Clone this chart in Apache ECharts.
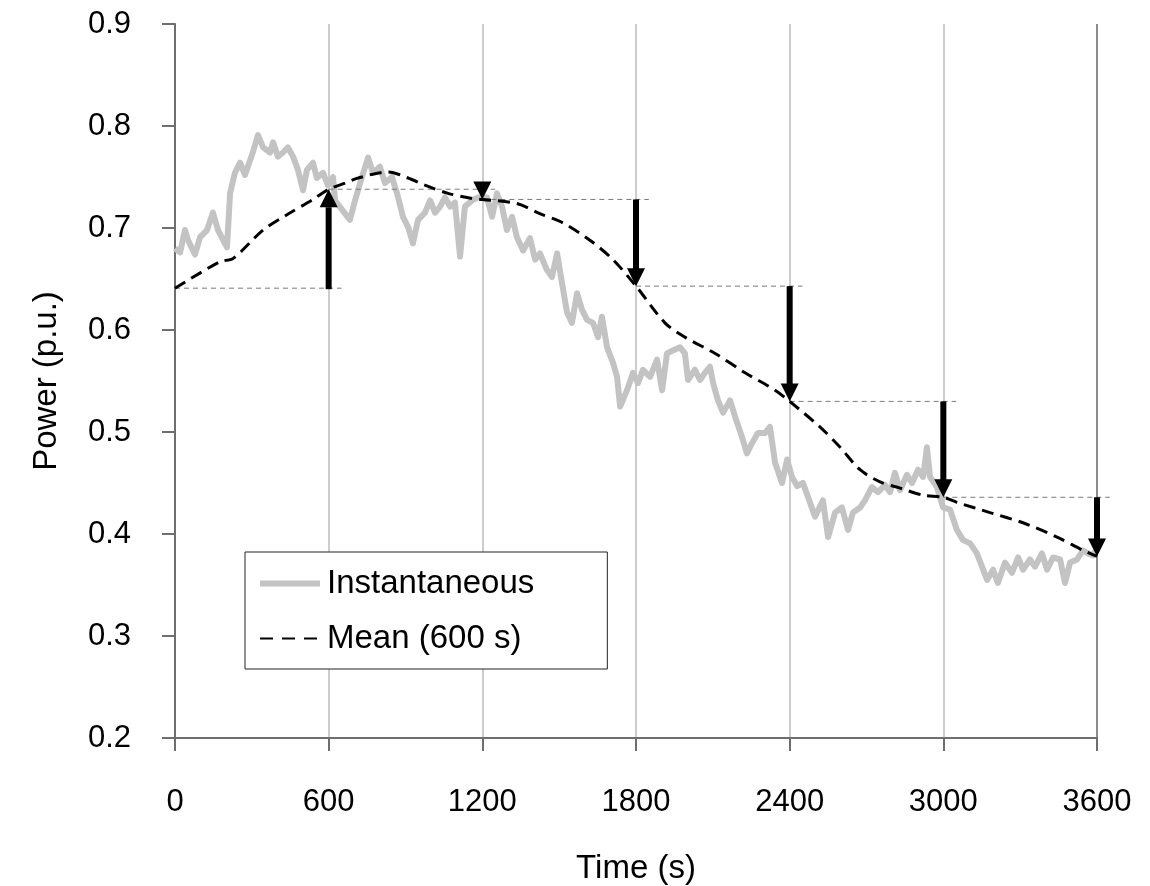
<!DOCTYPE html>
<html>
<head>
<meta charset="utf-8">
<script src="https://cdn.jsdelivr.net/npm/echarts@6/dist/echarts.min.js"></script>
<style>
html,body{margin:0;padding:0;background:#fff;}
#chart{width:1150px;height:886px;}
</style>
</head>
<body>
<div id="chart"></div>
<script>
// ---- data ----
const instTime = [0,20,39,51,78,98,125,148,168,203,215,234,254,273,301,324,344,371,383,402,422,441,461,480,500,515,539,554,578,597,617,625,652,683,703,730,754,773,800,820,847,867,890,910,929,949,976,996,1015,1035,1054,1074,1093,1113,1132,1160,1183,1218,1238,1257,1277,1296,1316,1335,1359,1386,1406,1425,1452,1472,1492,1511,1531,1550,1570,1589,1609,1632,1652,1667,1687,1710,1726,1738,1765,1788,1808,1827,1855,1882,1902,1921,1944,1972,1991,2003,2030,2050,2069,2089,2101,2120,2140,2167,2187,2214,2233,2253,2276,2304,2323,2343,2370,2390,2409,2429,2452,2472,2499,2530,2550,2577,2604,2628,2647,2675,2694,2721,2745,2772,2792,2811,2831,2858,2878,2901,2921,2936,2948,2975,2999,3026,3053,3077,3104,3131,3151,3171,3194,3213,3241,3268,3292,3311,3338,3358,3385,3405,3428,3456,3475,3495,3522,3545,3565,3584,3600];
const instPower = [0.680,0.676,0.698,0.688,0.674,0.691,0.698,0.715,0.698,0.681,0.734,0.754,0.764,0.752,0.772,0.791,0.779,0.774,0.784,0.770,0.774,0.779,0.770,0.757,0.737,0.757,0.764,0.749,0.754,0.742,0.750,0.727,0.718,0.708,0.727,0.750,0.769,0.754,0.760,0.744,0.750,0.734,0.711,0.701,0.685,0.708,0.715,0.727,0.715,0.721,0.730,0.721,0.725,0.672,0.721,0.727,0.730,0.730,0.711,0.734,0.721,0.698,0.711,0.691,0.678,0.690,0.669,0.675,0.659,0.652,0.675,0.646,0.617,0.607,0.636,0.620,0.610,0.607,0.593,0.613,0.583,0.568,0.554,0.525,0.541,0.558,0.548,0.561,0.554,0.571,0.541,0.577,0.580,0.583,0.577,0.551,0.561,0.551,0.558,0.564,0.548,0.531,0.519,0.531,0.515,0.495,0.479,0.489,0.499,0.499,0.505,0.470,0.450,0.473,0.456,0.447,0.450,0.436,0.417,0.433,0.397,0.421,0.426,0.404,0.421,0.426,0.433,0.446,0.441,0.448,0.441,0.460,0.443,0.458,0.450,0.463,0.456,0.485,0.456,0.446,0.426,0.424,0.404,0.394,0.391,0.381,0.368,0.355,0.365,0.352,0.372,0.362,0.377,0.365,0.375,0.368,0.381,0.365,0.377,0.375,0.352,0.372,0.375,0.384,0.381,0.379,0.386];

const meanTime = [0,176,226,344,437,539,600,664,715,832,910,976,1066,1160,1200,1335,1425,1515,1620,1710,1800,1913,1991,2109,2226,2343,2400,2518,2597,2675,2753,2831,2921,3000,3053,3182,3311,3444,3545,3600];
const meanPower = [0.641,0.667,0.670,0.698,0.713,0.728,0.738,0.744,0.749,0.755,0.749,0.742,0.734,0.729,0.728,0.724,0.714,0.705,0.688,0.669,0.643,0.607,0.593,0.577,0.558,0.541,0.530,0.505,0.485,0.463,0.451,0.445,0.438,0.436,0.431,0.421,0.411,0.397,0.384,0.378];

// step arrows: at each time the held mean jumps from old level to new mean
const arrowTime = [600,1200,1800,2400,3000,3600];
const arrowFrom = [0.641,0.738,0.728,0.643,0.530,0.436];
const arrowTo   = [0.738,0.728,0.643,0.530,0.436,0.378];

// held levels (thin dashed reference lines)
const refStart = [0,600,1200,1800,2400,3000];
const refLevel = [0.641,0.738,0.728,0.643,0.530,0.436];
const refSpan = 650;

const xTicks = [0,600,1200,1800,2400,3000,3600];
const yTicks = [0.2,0.3,0.4,0.5,0.6,0.7,0.8,0.9];

// ---- build ----
const instData = instTime.map((t,i)=>[t,instPower[i]]);
const meanData = meanTime.map((t,i)=>[t,meanPower[i]]);
const arrowData = arrowTime.map((t,i)=>[t,arrowFrom[i],arrowTo[i]]);
const refData = refStart.map((t,i)=>[t,refLevel[i],t+refSpan]);

const FONT = 'Liberation Sans, Arial, sans-serif';
const chart = echarts.init(document.getElementById('chart'));
chart.setOption({
  animation:false,
  backgroundColor:'#fff',
  grid:{left:175,right:53,top:24,bottom:148,containLabel:false,outerBoundsMode:'none'},
  legend:{
    orient:'vertical', left:245, top:552,
    padding:[15,73,14,12], itemGap:22,
    itemWidth:60, itemHeight:16,
    borderColor:'#222', borderWidth:1, backgroundColor:'#fff',
    itemStyle:{opacity:0},
    lineStyle:{width:'inherit'},
    textStyle:{fontFamily:FONT,fontSize:33,color:'#000',padding:[0,0,0,2]},
    data:[
      {name:'Instantaneous'},
      {name:'Mean (600 s)',lineStyle:{width:2,type:[13,9]}}
    ]
  },
  xAxis:{
    type:'value', min:0, max:3600, interval:600,
    axisLine:{show:true,lineStyle:{color:'#6e6e6e',width:2}},
    axisTick:{show:true,inside:false,length:13,lineStyle:{color:'#6e6e6e',width:2}},
    axisLabel:{fontFamily:FONT,fontSize:31,color:'#000',margin:49,
      formatter:v=>xTicks.includes(v)?String(v):''},
    splitLine:{show:true,lineStyle:{color:['#cdcdcd','#cdcdcd','#cdcdcd','#cdcdcd','#cdcdcd','#cdcdcd','#8c8c8c'],width:2}},
    name:'Time (s)', nameLocation:'middle', nameGap:114,
    nameTextStyle:{fontFamily:FONT,fontSize:33,color:'#000'}
  },
  yAxis:{
    type:'value', min:0.2, max:0.9, interval:0.1,
    axisLine:{show:true,lineStyle:{color:'#6e6e6e',width:2}},
    axisTick:{show:true,inside:false,length:13,lineStyle:{color:'#6e6e6e',width:2}},
    axisLabel:{fontFamily:FONT,fontSize:31,color:'#000',margin:44,
      formatter:v=>{const f=yTicks.find(y=>Math.abs(y-v)<1e-6);return f!==undefined?f.toFixed(1):'';}},
    splitLine:{show:false},
    name:'Power (p.u.)', nameLocation:'middle', nameGap:112,
    nameTextStyle:{fontFamily:FONT,fontSize:33,color:'#000'}
  },
  series:[
    {
      name:'Instantaneous', type:'line', data:instData,
      symbol:'none', showSymbol:false, smooth:false, z:2,
      lineStyle:{color:'#c3c3c3',width:6,join:'round'},
      itemStyle:{color:'#c3c3c3'}
    },
    {
      name:'refLevels', type:'custom', data:refData, z:3, clip:false, silent:true,
      renderItem:(params,api)=>{
        const a=api.coord([api.value(0),api.value(1)]);
        const b=api.coord([api.value(2),api.value(1)]);
        return {type:'line',shape:{x1:a[0],y1:a[1],x2:b[0],y2:b[1]},
          style:{stroke:'#7a7a7a',lineWidth:1,lineDash:[5,4]}};
      }
    },
    {
      name:'Mean (600 s)', type:'line', data:meanData,
      symbol:'none', showSymbol:false, smooth:0.3, z:4,
      lineStyle:{color:'#000',width:3,type:[12,7]},
      itemStyle:{color:'#000'}
    },
    {
      name:'arrows', type:'custom', data:arrowData, z:5, clip:false, silent:true,
      renderItem:(params,api)=>{
        const p0=api.coord([api.value(0),api.value(1)]);
        const p1=api.coord([api.value(0),api.value(2)]);
        const x=p1[0];
        const dir=p1[1]>p0[1]?1:-1;
        const headLen=18, headHalf=9, shaftHalf=3;
        const baseY=p1[1]-dir*headLen;
        const children=[];
        const shaftLen=(baseY-p0[1])*dir;
        if(shaftLen>0){
          const y0=Math.min(p0[1],baseY), y1=Math.max(p0[1],baseY);
          children.push({type:'rect',shape:{x:x-shaftHalf,y:y0,width:shaftHalf*2,height:y1-y0+1},style:{fill:'#000'}});
        }
        children.push({type:'polygon',shape:{points:[[x-headHalf,baseY],[x+headHalf,baseY],[x,p1[1]]]},style:{fill:'#000'}});
        return {type:'group',children};
      }
    }
  ]
});
</script>
</body>
</html>
